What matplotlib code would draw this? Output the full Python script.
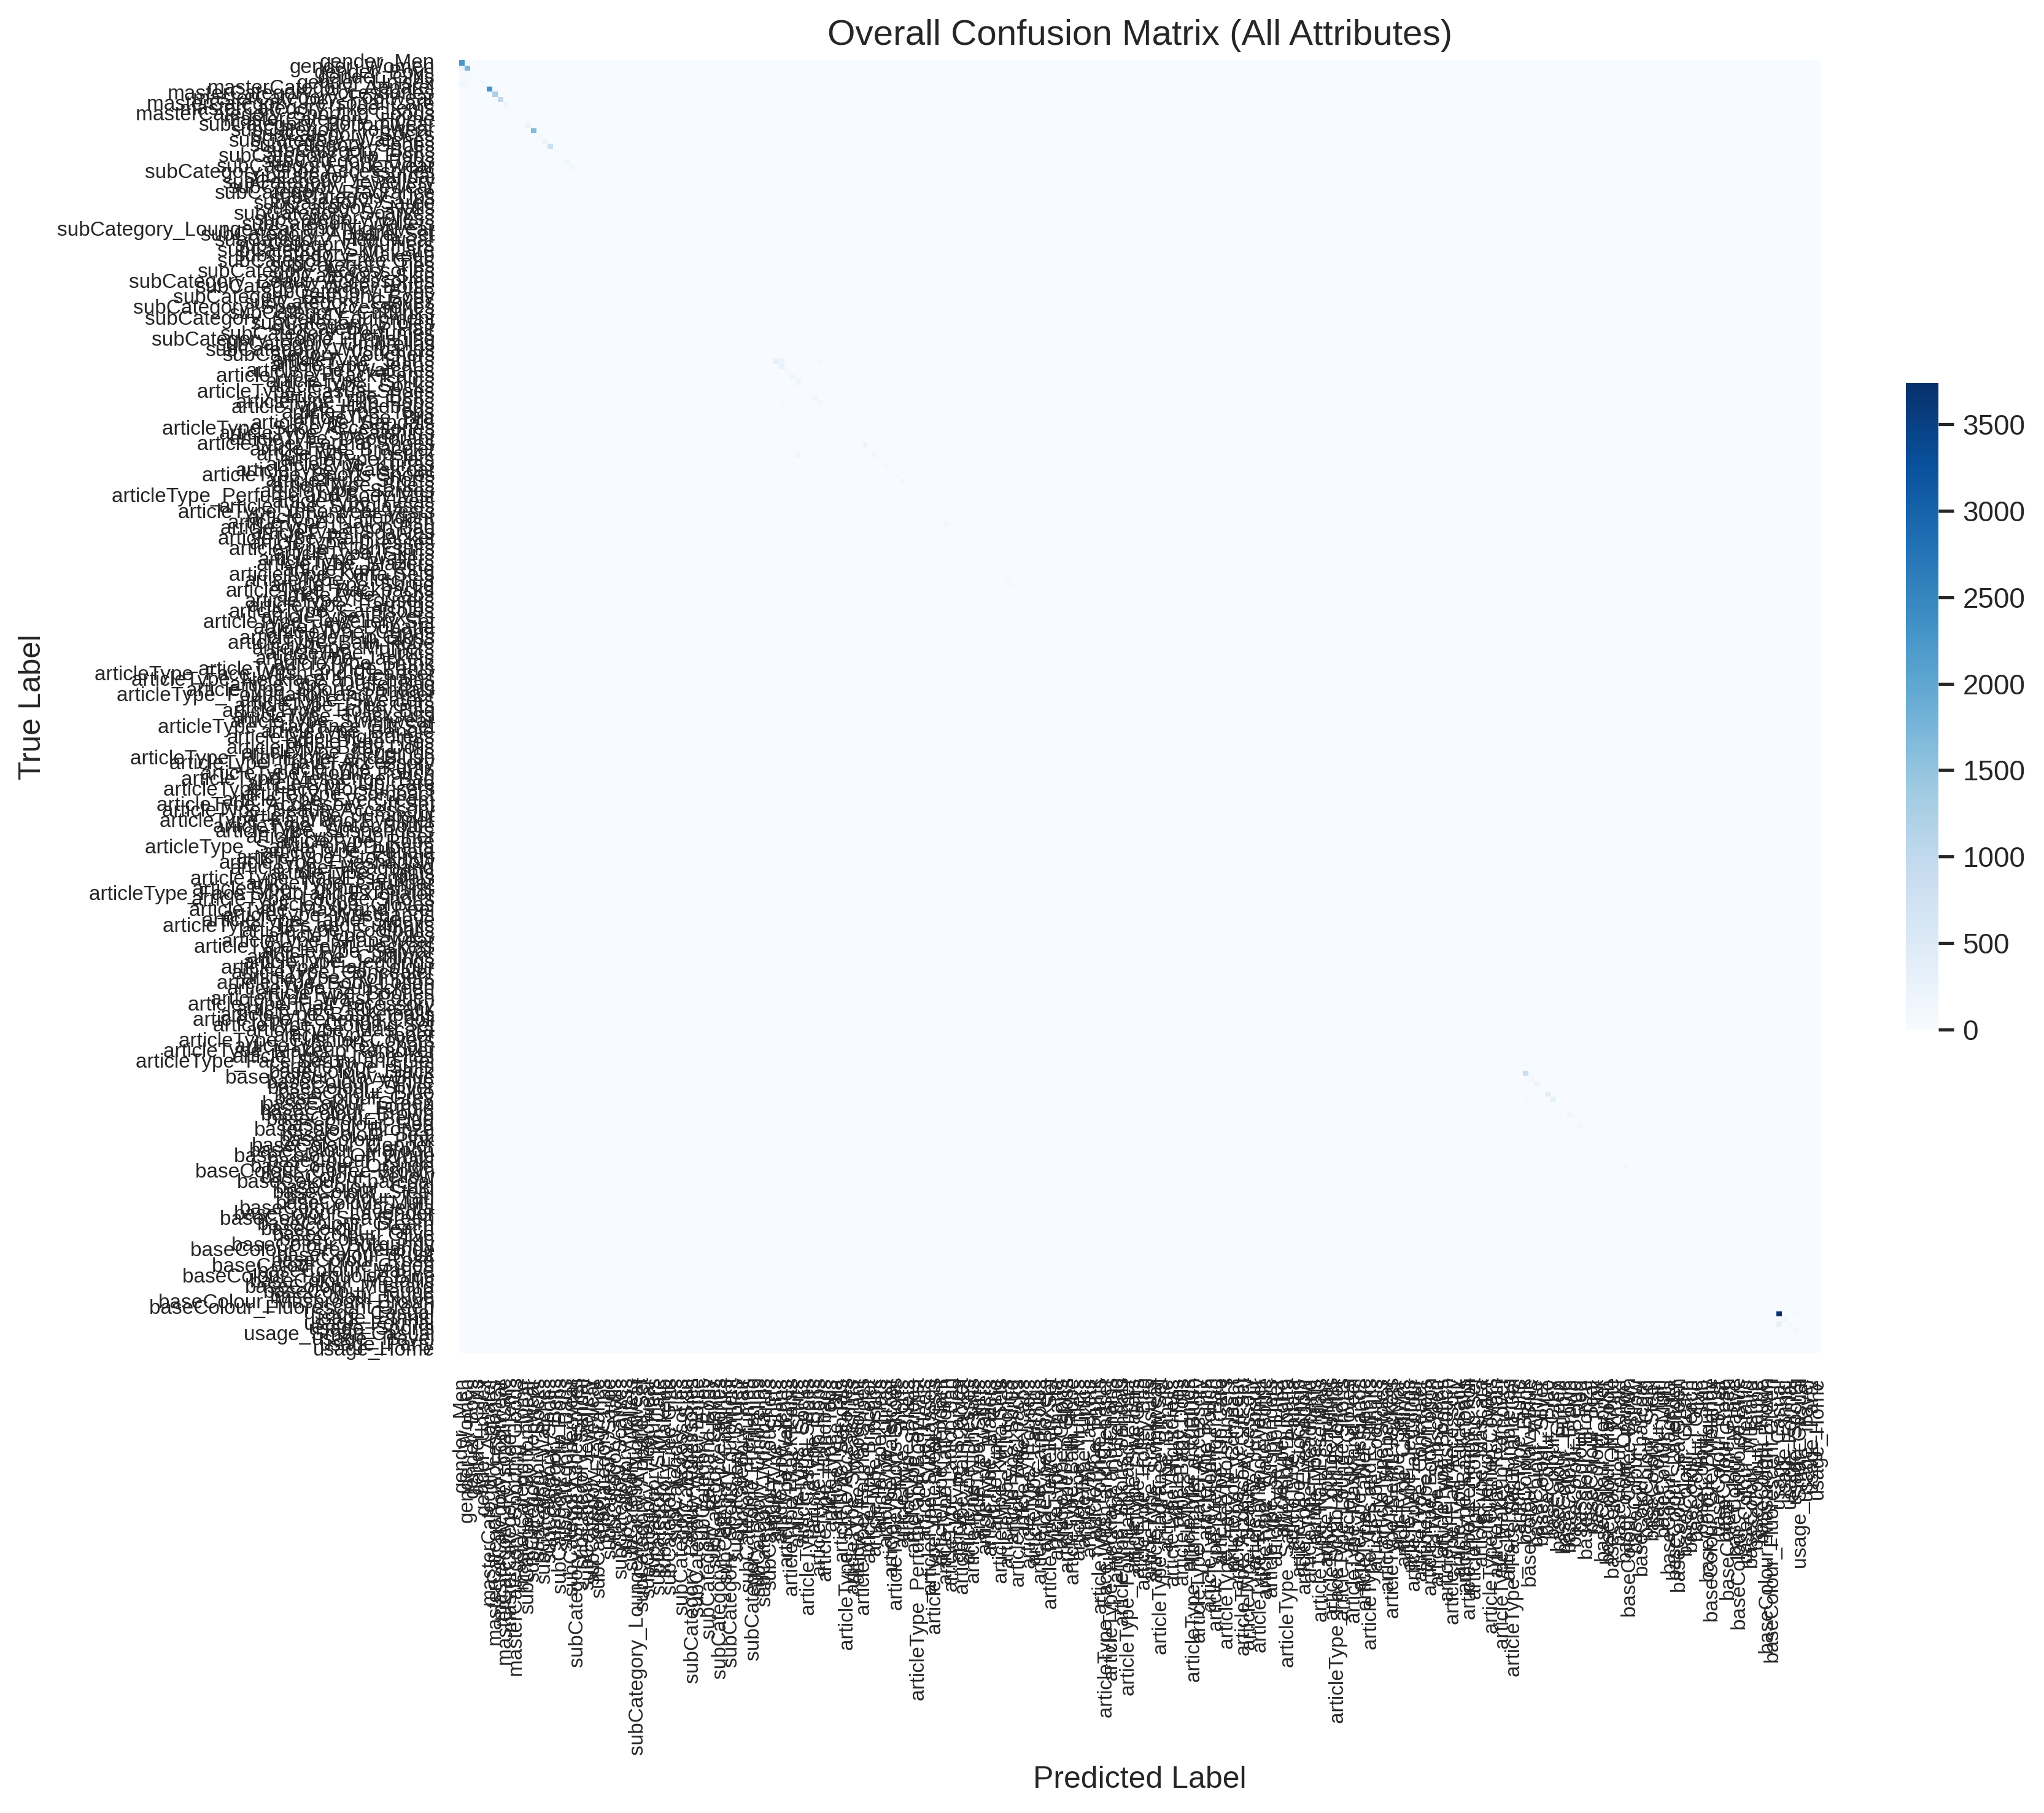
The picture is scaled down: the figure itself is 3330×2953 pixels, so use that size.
import numpy as np
import matplotlib
matplotlib.use('Agg')
import matplotlib.pyplot as plt
import seaborn as sns

# Class lists per attribute (order as they appear on the axes)
gender_classes = ['Men', 'Women', 'Boys', 'Girls', 'Unisex']
gender_diag = [2250, 1750, 40, 30, 80]
gender_conf = [('Men', 'Women', 80), ('Women', 'Men', 250), ('Boys', 'Men', 50),
               ('Boys', 'Women', 30), ('Girls', 'Men', 50), ('Girls', 'Women', 50),
               ('Unisex', 'Men', 140), ('Unisex', 'Women', 60), ('Men', 'Unisex', 40),
               ('Women', 'Unisex', 30)]

master_classes = ['Apparel', 'Accessories', 'Footwear', 'Personal Care', 'Free Items',
                  'Sporting Goods', 'Home']
master_diag = [2300, 1250, 1000, 180, 5, 2, 0]
master_conf = [('Apparel', 'Accessories', 90), ('Personal Care', 'Accessories', 40)]

sub_classes = ['Bottomwear', 'Topwear', 'Socks', 'Watches', 'Shoes', 'Belts', 'Flip Flops',
               'Bags', 'Innerwear', 'Shoe Accessories', 'Sandal', 'Jewellery', 'Eyewear',
               'Fragrance', 'Lips', 'Saree', 'Nails', 'Scarves', 'Dress', 'Wallets',
               'Loungewear and Nightwear', 'Apparel Set', 'Headwear', 'Mufflers', 'Skin Care',
               'Makeup', 'Free Gifts', 'Ties', 'Accessories', 'Skin', 'Beauty Accessories',
               'Water Bottle', 'Eyes', 'Bath and Body', 'Gloves', 'Sports Accessories',
               'Cufflinks', 'Sports Equipment', 'Stoles', 'Hair', 'Perfumes',
               'Home Furnishing', 'Umbrellas', 'Wristbands', 'Vouchers']
sub_diag = [200, 1650, 90, 230, 800, 60, 40, 150, 120, 20,
            60, 30, 40, 60, 30, 15, 10, 10, 10, 10,
            10, 5, 5, 5, 5, 5, 5, 5, 5, 5,
            5, 2, 2, 2, 2, 2, 2, 2, 2, 2,
            1, 1, 0, 0, 0]
sub_conf = [('Topwear', 'Innerwear', 25), ('Topwear', 'Sandal', 20), ('Watches', 'Sandal', 20),
            ('Lips', 'Shoes', 20)]

article_classes = ['Shirts', 'Jeans', 'Watches', 'Track Pants', 'Tshirts', 'Socks', 'Casual Shoes',
                   'Belts', 'Flip Flops', 'Handbags', 'Tops', 'Bra', 'Sandals', 'Shoe Accessories',
                   'Sweatshirts', 'Deodorant', 'Formal Shoes', 'Bracelet', 'Lipstick', 'Flats',
                   'Kurtas', 'Waistcoat', 'Sports Shoes', 'Shorts', 'Briefs', 'Sarees',
                   'Perfume and Body Mist', 'Heels', 'Sunglasses', 'Innerwear Vests', 'Pendant',
                   'Nail Polish', 'Laptop Bag', 'Scarves', 'Rain Jacket', 'Dresses', 'Night suits',
                   'Skirts', 'Wallets', 'Blazers', 'Ring', 'Kurta Sets', 'Clutches', 'Shrug',
                   'Backpacks', 'Caps', 'Trousers', 'Earrings', 'Camisoles', 'Boxers',
                   'Jewellery Set', 'Dupatta', 'Capris', 'Lip Gloss', 'Bath Robe', 'Mufflers',
                   'Tunics', 'Jackets', 'Trunk', 'Lounge Pants', 'Face Wash and Cleanser',
                   'Necklace and Chains', 'Duffel Bag', 'Sports Sandals', 'Foundation and Primer',
                   'Sweaters', 'Free Gifts', 'Trolley Bag', 'Tracksuits', 'Swimwear',
                   'Fragrance Gift Set', 'Bangle', 'Nightdress', 'Ties', 'Baby Dolls', 'Leggings',
                   'Highlighter and Blush', 'Travel Accessory', 'Kurtis', 'Mobile Pouch',
                   'Messenger Bag', 'Lip Care', 'Face Moisturisers', 'Compact', 'Eye Cream',
                   'Accessory Gift Set', 'Beauty Accessory', 'Jumpsuit', 'Kajal and Eyeliner',
                   'Water Bottle', 'Suspenders', 'Lip Liner', 'Robe', 'Salwar and Dupatta',
                   'Patiala', 'Stockings', 'Eyeshadow', 'Headband', 'Tights', 'Nail Essentials',
                   'Churidar', 'Lounge Tshirts', 'Face Scrub and Exfoliator', 'Lounge Shorts',
                   'Gloves', 'Mask and Peel', 'Wristbands', 'Tablet Sleeve', 'Ties and Cufflinks',
                   'Footballs', 'Stoles', 'Shapewear', 'Nehru Jackets', 'Salwar', 'Cufflinks',
                   'Jeggings', 'Hair Colour', 'Concealer', 'Rompers', 'Body Lotion', 'Sunscreen',
                   'Booties', 'Waist Pouch', 'Hair Accessory', 'Rucksack', 'Basketballs',
                   'Lehenga Choli', 'Clothing Set', 'Mascara', 'Toner', 'Cushion Covers',
                   'Key chain', 'Makeup Remover', 'Umbrellas', 'Face Serum and Gel', 'Suits']
article_diag = [330, 250, 80, 180, 200, 60, 60, 150, 100, 50,
                15, 10, 10, 10, 10, 10, 180, 10, 120, 40,
                100, 60, 60, 120, 60, 10, 30, 10, 10, 40,
                10, 100, 10, 10, 50, 10, 10, 10, 40, 40,
                40, 10, 100, 70, 20, 10, 20, 10, 5, 10,
                5, 10, 5, 5, 5, 10, 5, 5, 5, 5,
                5, 5, 3, 5, 3, 3, 2, 3, 5, 3,
                2, 3, 2, 2, 3, 2, 2, 3, 2, 2,
                2, 2, 1, 2, 1, 2, 1, 1, 2, 1,
                1, 1, 1, 2, 1, 1, 1, 1, 1, 1,
                1, 1, 1, 1, 1, 1, 1, 1, 0, 1,
                1, 0, 1, 0, 1, 0, 1, 0, 0, 1,
                0, 0, 1, 0, 0, 0, 0, 1, 0, 0,
                0, 0, 0, 0, 0, 0]
article_conf = [('Shirts', 'Jeans', 200), ('Shirts', 'Flip Flops', 80), ('Tshirts', 'Sandals', 40),
                ('Flip Flops', 'Jeans', 50), ('Bra', 'Jeans', 40), ('Bra', 'Sandals', 50),
                ('Formal Shoes', 'Jeans', 30), ('Lipstick', 'Tshirts', 150), ('Shorts', 'Tshirts', 30),
                ('Briefs', 'Tshirts', 30), ('Rain Jacket', 'Shoe Accessories', 30),
                ('Dresses', 'Nail Polish', 30), ('Deodorant', 'Shorts', 30),
                ('Sweatshirts', 'Perfume and Body Mist', 30), ('Shirts', 'Nail Polish', 40),
                ('Flip Flops', 'Nail Polish', 30), ('Handbags', 'Nail Polish', 30),
                ('Belts', 'Briefs', 30)]

colour_classes = ['Black', 'Navy Blue', 'White', 'Silver', 'Blue', 'Grey', 'Green', 'Purple',
                  'Brown', 'Beige', 'Red', 'Bronze', 'Teal', 'Pink', 'Copper', 'Maroon',
                  'Off White', 'Khaki', 'Orange', 'Coffee Brown', 'Yellow', 'Charcoal', 'Gold',
                  'Steel', 'Tan', 'Multi', 'Magenta', 'Lavender', 'Sea Green', 'Cream', 'Peach',
                  'Olive', 'Skin', 'Burgundy', 'Grey Melange', 'Rust', 'Rose', 'Lime Green',
                  'Mauve', 'Turquoise Blue', 'Metallic', 'Mustard', 'Taupe', 'Nude',
                  'Mushroom Brown', 'Fluorescent Green']
colour_diag = [850, 80, 200, 10, 380, 300, 60, 10, 150, 10,
               100, 10, 10, 40, 10, 50, 40, 10, 100, 10,
               30, 5, 5, 5, 5, 5, 30, 5, 3, 3,
               3, 3, 2, 2, 2, 2, 1, 1, 1, 1,
               1, 1, 0, 0, 0, 0]
colour_conf = [('Silver', 'Black', 50), ('Grey', 'Black', 50), ('Black', 'Navy Blue', 60),
               ('Black', 'Blue', 40), ('Black', 'Grey', 40), ('Black', 'Orange', 30),
               ('Brown', 'Black', 50), ('Brown', 'Green', 30), ('Brown', 'Orange', 20),
               ('Red', 'Grey', 30), ('Red', 'Orange', 30), ('Pink', 'Black', 30),
               ('Pink', 'Blue', 30), ('Pink', 'Orange', 20), ('Maroon', 'Grey', 30),
               ('Off White', 'Orange', 40), ('Multi', 'Grey', 30), ('Lavender', 'White', 20)]

usage_classes = ['Casual', 'Ethnic', 'Formal', 'Sports', 'Smart Casual', 'Travel', 'Party', 'Home']
usage_diag = [3738, 150, 60, 130, 2, 1, 1, 0]
usage_conf = [('Ethnic', 'Casual', 50), ('Formal', 'Casual', 330), ('Sports', 'Casual', 40),
              ('Casual', 'Sports', 60)]

attributes = [
    ('gender', gender_classes, gender_diag, gender_conf),
    ('masterCategory', master_classes, master_diag, master_conf),
    ('subCategory', sub_classes, sub_diag, sub_conf),
    ('articleType', article_classes, article_diag, article_conf),
    ('baseColour', colour_classes, colour_diag, colour_conf),
    ('usage', usage_classes, usage_diag, usage_conf),
]

labels = []
for name, classes, diag, conf in attributes:
    assert len(classes) == len(diag), name
    labels += [f'{name}_{c}' for c in classes]
idx = {lab: i for i, lab in enumerate(labels)}

cm = np.zeros((len(labels), len(labels)), dtype=int)
for name, classes, diag, conf in attributes:
    for c, v in zip(classes, diag):
        i = idx[f'{name}_{c}']
        cm[i, i] = v
    for t, p, v in conf:
        cm[idx[f'{name}_{t}'], idx[f'{name}_{p}']] = v

sns.set_theme()
plt.rcParams['font.family'] = ['Liberation Sans', 'DejaVu Sans']

W, H = 3330, 2953
fig = plt.figure(figsize=(W / 300, H / 300), dpi=300)
ax = fig.add_axes([748 / W, 1 - 2204 / H, 2218 / W, 2106 / H])
cax = fig.add_axes([3105 / W, 1 - 1677 / H, 53 / W, 1053 / H])

sns.heatmap(cm, cmap='Blues', xticklabels=labels, yticklabels=labels, ax=ax, cbar_ax=cax)
ax.tick_params(axis='both', labelsize=8)
plt.setp(ax.get_xticklabels(), rotation=90)
plt.setp(ax.get_yticklabels(), rotation=0)

ax.set_title('Overall Confusion Matrix (All Attributes)', fontsize=14)
ax.set_xlabel('Predicted Label', fontsize=12)
ax.set_ylabel('True Label', fontsize=12)

fig.savefig('out.png', dpi=300)
